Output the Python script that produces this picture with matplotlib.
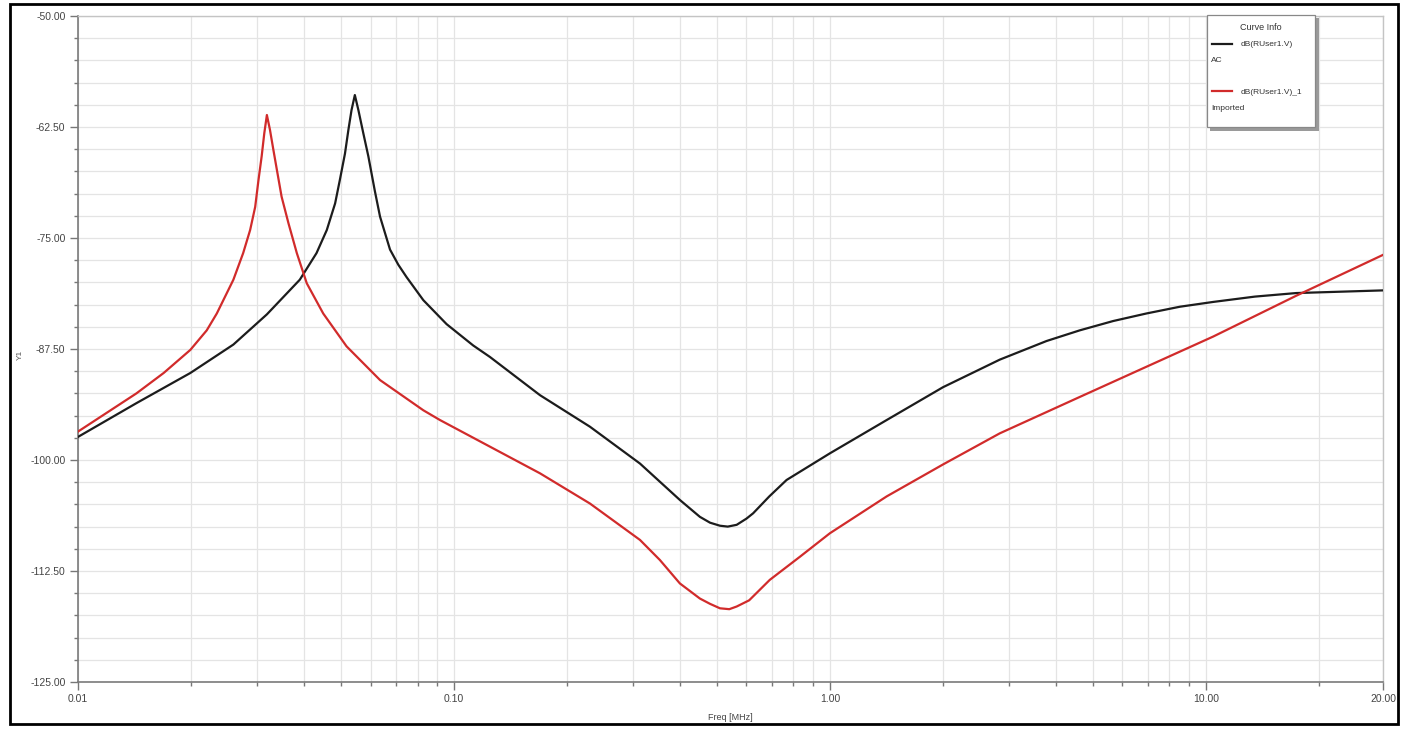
import matplotlib
matplotlib.use('Agg')
import matplotlib.pyplot as plt
import numpy as np
from matplotlib.lines import Line2D
from matplotlib.patches import Rectangle
from matplotlib.ticker import FixedLocator, NullFormatter

plt.rcParams['font.family'] = ['Liberation Sans', 'DejaVu Sans']

# Curve 1: dB(RUser1.V), AC  (freq in MHz, level in dB)
freq_ac = [0.0100, 0.0143, 0.0199, 0.0259, 0.0318, 0.0389, 0.0431, 0.0459, 0.0483,
           0.0497, 0.0513, 0.0524, 0.0534, 0.0545, 0.0557, 0.0574, 0.0592, 0.0616,
           0.0636, 0.0676, 0.0711, 0.0748, 0.0829, 0.0956, 0.1125, 0.1247, 0.1694,
           0.2300, 0.3125, 0.3990, 0.4510, 0.4800, 0.5100, 0.5350, 0.5650, 0.6000,
           0.6250, 0.6900, 0.7670, 1.000, 1.416, 2.000, 2.830, 3.770, 4.620, 5.670,
           6.950, 8.530, 10.46, 13.5, 17.4, 22.7, 29.6]
db_ac = [-97.4, -93.6, -90.2, -87.0, -83.6, -79.7, -76.7, -74.1, -71.1,
         -68.5, -65.5, -62.8, -60.6, -58.9, -60.6, -63.2, -65.8, -69.7,
         -72.6, -76.3, -78.0, -79.4, -82.0, -84.7, -87.1, -88.4, -92.7,
         -96.25, -100.4, -104.5, -106.4, -107.06, -107.4, -107.5, -107.3, -106.6,
         -106.0, -104.1, -102.25, -99.25, -95.5, -91.8, -88.7, -86.6, -85.4, -84.35,
         -83.5, -82.74, -82.2, -81.6, -81.2, -81.05, -80.9]

# Curve 2: dB(RUser1.V)_1, Imported
freq_imp = [0.0100, 0.0143, 0.0169, 0.0199, 0.0220, 0.0234, 0.0259, 0.0275, 0.0287,
            0.0296, 0.0302, 0.0308, 0.0313, 0.0318, 0.0324, 0.0331, 0.0338, 0.0348,
            0.0363, 0.0382, 0.0406, 0.0449, 0.0518, 0.0636, 0.0829, 0.0918, 0.1247,
            0.1694, 0.2300, 0.3125, 0.3530, 0.3990, 0.4510, 0.4800, 0.5100, 0.5400,
            0.5650, 0.6100, 0.6920, 0.8320, 1.000, 1.416, 2.000, 2.830, 4.620, 6.950,
            10.46, 17.4, 29.6]
db_imp = [-96.8, -92.5, -90.2, -87.6, -85.4, -83.5, -79.7, -76.7, -74.1,
          -71.5, -68.5, -65.8, -63.2, -61.15, -62.8, -65.1, -67.3, -70.35,
          -73.35, -76.7, -80.1, -83.5, -87.2, -91.0, -94.4, -95.5, -98.5,
          -101.5, -104.9, -109.0, -111.26, -113.9, -115.6, -116.2, -116.7, -116.8,
          -116.5, -115.8, -113.5, -110.9, -108.25, -104.1, -100.5, -97.0, -92.9, -89.5,
          -86.1, -81.5, -76.9]

y_ticks = [-50, -62.5, -75, -87.5, -100, -112.5, -125]
y_tick_labels = ['-50.00', '-62.50', '-75.00', '-87.50', '-100.00', '-112.50', '-125.00']
x_ticks = [0.01, 0.1, 1, 10, 29.6]
x_tick_labels = ['0.01', '0.10', '1.00', '10.00', '20.00']

W, H = 1408, 736
fig = plt.figure(figsize=(W / 100, H / 100), dpi=100)
ax = fig.add_axes([78 / W, 1 - 682 / H, (1383 - 78) / W, (682 - 16) / H])

line_ac, = ax.plot(freq_ac, db_ac, color='#1c1c1c', lw=1.6, zorder=3,
                   solid_joinstyle='round')
line_imp, = ax.plot(freq_imp, db_imp, color='#d12b2b', lw=1.6, zorder=3,
                    solid_joinstyle='round')

ax.set_xscale('log')
ax.set_xlim(0.01, 29.6)
ax.set_ylim(-125, -50)

ax.xaxis.set_major_locator(FixedLocator(x_ticks))
ax.set_xticklabels(x_tick_labels)
minor_x = [k * 10.0 ** e for e in (-2, -1, 0) for k in range(2, 10)] + [20]
ax.xaxis.set_minor_locator(FixedLocator(minor_x))
ax.xaxis.set_minor_formatter(NullFormatter())

ax.set_yticks(y_ticks)
ax.set_yticklabels(y_tick_labels)
ax.yaxis.set_minor_locator(FixedLocator(np.arange(-125, -50, 2.5)))

ax.set_axisbelow(True)
ax.grid(which='both', color='#e4e4e4', lw=0.9)
ax.tick_params(which='major', length=6, width=1, color='#777777',
               labelsize=7.5, labelcolor='#444444', pad=3)
ax.tick_params(which='minor', length=3, width=1, color='#777777')
for side in ('left', 'bottom'):
    ax.spines[side].set_color('#7a7a7a')
    ax.spines[side].set_linewidth(1.2)
for side in ('top', 'right'):
    ax.spines[side].set_color('#c4c4c4')
    ax.spines[side].set_linewidth(1.0)

fig.text(20 / W, 1 - 355 / H, 'Y1', rotation=90, ha='center', va='center',
         fontsize=6, color='#555555')
fig.text(730 / W, 1 - 718 / H, 'Freq [MHz]', ha='center', va='center',
         fontsize=6.5, color='#444444')

# legend box ("Curve Info")
shadow = Rectangle((1210 / W, 1 - 131 / H), 109 / W, 113 / H, transform=fig.transFigure,
                   facecolor='#9a9a9a', edgecolor='none', zorder=5)
box = Rectangle((1207 / W, 1 - 127 / H), 108 / W, 112 / H, transform=fig.transFigure,
                facecolor='white', edgecolor='#888888', lw=0.9, zorder=6)
fig.add_artist(shadow)
fig.add_artist(box)
fig.text(1261 / W, 1 - 27 / H, 'Curve Info', ha='center', va='center',
         fontsize=6.5, color='#333333', zorder=7)
entries = [(line_ac, 'dB(RUser1.V)', 'AC', 44),
           (line_imp, 'dB(RUser1.V)_1', 'Imported', 91)]
for ln, name, src, yp in entries:
    fig.add_artist(Line2D([1212 / W, 1232 / W], [1 - yp / H, 1 - yp / H],
                          color=ln.get_color(), lw=1.6, transform=fig.transFigure, zorder=7))
    fig.text(1241 / W, 1 - (yp + 1) / H, name, ha='left', va='center',
             fontsize=6, color='#333333', zorder=7)
    fig.text(1211 / W, 1 - (yp + 17) / H, src, ha='left', va='center',
             fontsize=6, color='#333333', zorder=7)

# outer frame
frame = Rectangle((9.5 / W, 1 - 724 / H), 1388.5 / W, 720 / H, transform=fig.transFigure,
                  fill=False, edgecolor='black', lw=2, zorder=8)
fig.add_artist(frame)

fig.savefig('out.png', dpi=100)
